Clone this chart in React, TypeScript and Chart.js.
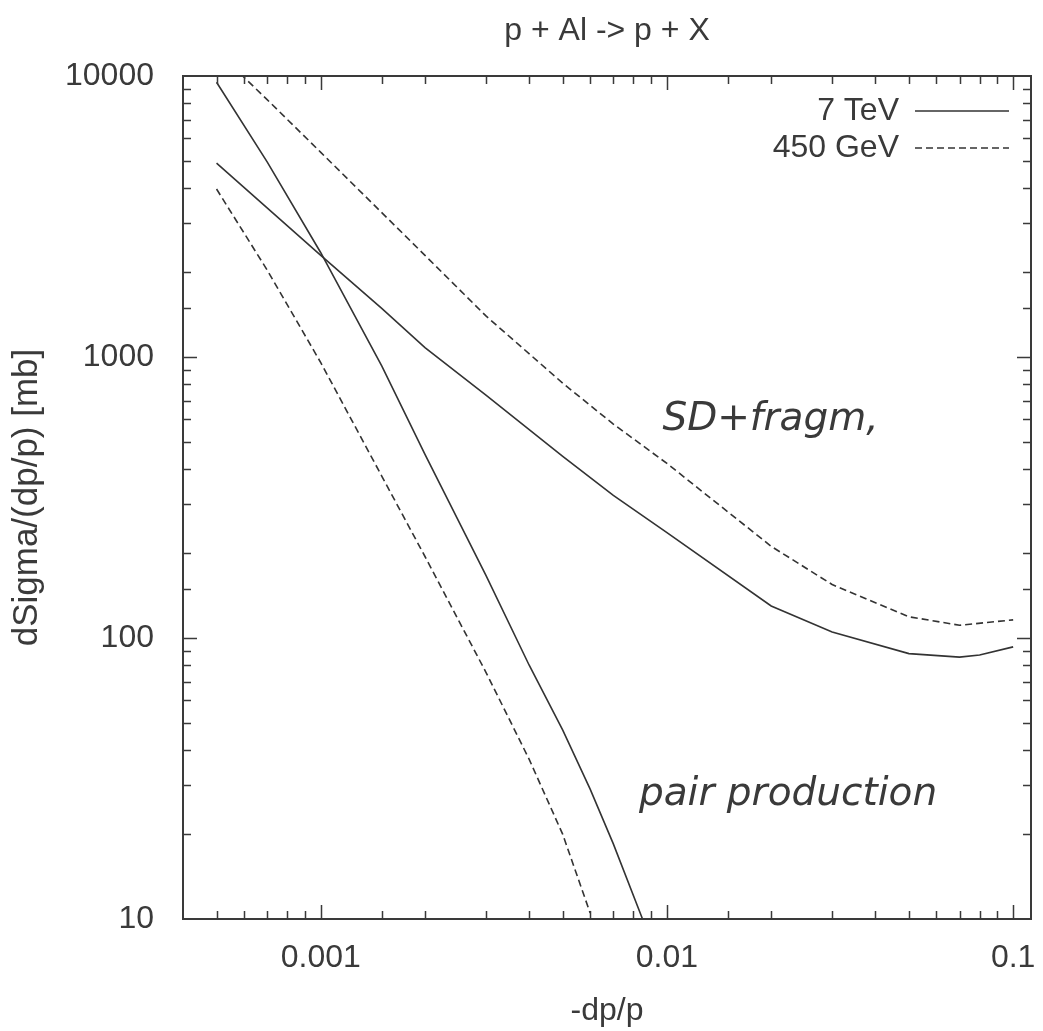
import React, { useEffect, useRef } from 'react';
import { Chart, registerables } from 'chart.js';

Chart.register(...registerables);

// ---- text ----
const titleText = 'p + Al -> p + X';
const xAxisTitle = '-dp/p';
const yAxisTitle = 'dSigma/(dp/p) [mb]';
const seriesLabels = ['7 TeV', '450 GeV'];

// ---- tick labels (only decades are labelled) ----
const xTickValues = [0.001, 0.01, 0.1];
const xTickLabels = ['0.001', '0.01', '0.1'];
const yTickValues = [10, 100, 1000, 10000];
const yTickLabels = ['10', '100', '1000', '10000'];

// ---- series: 7 TeV, SD + fragmentation (solid) ----
const xSd7 = [0.0005, 0.001, 0.0015, 0.002, 0.003, 0.005, 0.007, 0.01, 0.02, 0.03, 0.05, 0.07, 0.08, 0.1];
const ySd7 = [4900, 2300, 1490, 1080, 731, 443, 322, 237, 130, 105, 88, 85.5, 87, 93];

// ---- series: 450 GeV, SD + fragmentation (dashed) ----
const xSd450 = [0.0005, 0.0007, 0.001, 0.002, 0.003, 0.005, 0.007, 0.01, 0.02, 0.03, 0.05, 0.07, 0.1];
const ySd450 = [12300, 8240, 5350, 2300, 1400, 807, 577, 418, 212, 155, 119, 111, 116];

// ---- series: 7 TeV, pair production (solid) ----
const xPair7 = [0.0005, 0.0007, 0.001, 0.0015, 0.002, 0.003, 0.004, 0.005, 0.006, 0.007, 0.0085];
const yPair7 = [9500, 4950, 2350, 930, 450, 167, 80, 47, 29, 18.5, 10];

// ---- series: 450 GeV, pair production (dashed) ----
const xPair450 = [0.0005, 0.0007, 0.001, 0.0015, 0.002, 0.003, 0.004, 0.005, 0.006];
const yPair450 = [3960, 2040, 955, 377, 195, 75.5, 37, 20, 10.5];

// ---- hand-written annotations (data coordinates) ----
const annotationTexts = ['SD+fragm,', 'pair production'];
const annotationX = [0.0097, 0.0083];
const annotationY = [550, 25.5];

// ---- axis ranges ----
const xMin = 0.0004;
const xMax = 0.1126;
const yMin = 10;
const yMax = 10000;

const INK = '#3a3a3a';
const LINE = '#333333';
const FONT = "'Liberation Sans', Arial, Helvetica, sans-serif";
const DASH = [7, 4];

const toPoints = (xs: number[], ys: number[]) => xs.map((x, i) => ({ x, y: ys[i] }));

const labelFor = (values: number[], labels: string[]) => (v: number | string) => {
  const n = Number(v);
  const i = values.findIndex((t) => Math.abs(n / t - 1) < 1e-6);
  return i >= 0 ? labels[i] : '';
};

const frameTicksPlugin = {
  id: 'frameTicks',
  afterDatasetsDraw(chart: any) {
    const { ctx, chartArea } = chart;
    const { left, right, top, bottom } = chartArea;
    const xs = chart.scales.x;
    const ys = chart.scales.y;
    ctx.save();
    ctx.strokeStyle = INK;
    ctx.lineWidth = 1.5;
    ctx.beginPath();
    xs.ticks.forEach((t: any) => {
      if (t.value <= xs.min * 1.0001 || t.value >= xs.max * 0.9999) return;
      const px = Math.round(xs.getPixelForValue(t.value)) + 0.5;
      const len = t.major ? 14 : 8;
      ctx.moveTo(px, bottom);
      ctx.lineTo(px, bottom - len);
      ctx.moveTo(px, top);
      ctx.lineTo(px, top + len);
    });
    ys.ticks.forEach((t: any) => {
      if (t.value <= ys.min * 1.0001 || t.value >= ys.max * 0.9999) return;
      const py = Math.round(ys.getPixelForValue(t.value)) + 0.5;
      const len = t.major ? 14 : 8;
      ctx.moveTo(left, py);
      ctx.lineTo(left + len, py);
      ctx.moveTo(right, py);
      ctx.lineTo(right - len, py);
    });
    ctx.stroke();
    ctx.lineWidth = 2;
    ctx.strokeRect(left, top, right - left, bottom - top);
    ctx.restore();
  },
};

const annotationPlugin = {
  id: 'handNotes',
  afterDatasetsDraw(chart: any) {
    const { ctx } = chart;
    const xs = chart.scales.x;
    const ys = chart.scales.y;
    ctx.save();
    ctx.font = "italic 39px 'DejaVu Sans', sans-serif";
    ctx.fillStyle = INK;
    ctx.textAlign = 'left';
    ctx.textBaseline = 'alphabetic';
    annotationTexts.forEach((txt, i) => {
      ctx.fillText(txt, xs.getPixelForValue(annotationX[i]), ys.getPixelForValue(annotationY[i]));
    });
    ctx.restore();
  },
};

const legendPlacer = {
  id: 'legendPlacer',
  afterLayout(chart: any) {
    const lg = chart.legend;
    if (!lg) return;
    const ca = chart.chartArea;
    const pad = 5;
    const sampleRight = ca.right - 22;
    lg.left = sampleRight + pad - lg.width;
    lg.right = lg.left + lg.width;
    lg.top = ca.top + 14;
    lg.bottom = ca.bottom;
  },
};

export default function App() {
  const ref = useRef<HTMLCanvasElement | null>(null);

  useEffect(() => {
    if (!ref.current) return;
    const lineCommon = { pointRadius: 0, borderWidth: 1.6, tension: 0, fill: false, borderColor: LINE, backgroundColor: LINE };
    const chart = new Chart(ref.current, {
      type: 'line',
      data: {
        datasets: [
          { ...lineCommon, label: seriesLabels[0], data: toPoints(xSd7, ySd7) },
          { ...lineCommon, label: seriesLabels[1], data: toPoints(xSd450, ySd450), borderDash: DASH },
          { ...lineCommon, label: seriesLabels[0], data: toPoints(xPair7, yPair7) },
          { ...lineCommon, label: seriesLabels[1], data: toPoints(xPair450, yPair450), borderDash: DASH },
        ],
      },
      options: {
        animation: false,
        responsive: false,
        devicePixelRatio: 1,
        layout: { padding: { top: 0, right: 6, bottom: 0, left: 0 } },
        plugins: {
          title: {
            display: true,
            text: titleText,
            fullSize: false,
            color: INK,
            font: { family: FONT, size: 32, weight: 'normal' },
            padding: { top: 12, bottom: 25.6 },
          },
          legend: {
            display: true,
            position: 'chartArea',
            align: 'start',
            rtl: true,
            labels: {
              generateLabels: (c: any) => {
                const items = (Chart.defaults as any).plugins.legend.labels.generateLabels(c);
                return items.map((it: any) => ({
                  ...it,
                  lineDash: c.data.datasets[it.datasetIndex].borderDash || [],
                  lineWidth: 1.4,
                  strokeStyle: LINE,
                  fillStyle: LINE,
                  fontColor: INK,
                }));
              },
              filter: (item: any) => item.datasetIndex < 2,
              usePointStyle: true,
              pointStyle: 'line',
              pointStyleWidth: 94,
              boxHeight: 32,
              padding: 5,
              color: INK,
              font: { family: FONT, size: 32, lineHeight: 1 },
            },
          },
          tooltip: { enabled: false },
        },
        scales: {
          x: {
            type: 'logarithmic',
            min: xMin,
            max: xMax,
            grid: { display: false },
            border: { display: false },
            afterFit: (s: any) => { s.height = 112; },
            ticks: {
              autoSkip: false,
              maxRotation: 0,
              minRotation: 0,
              padding: 12,
              color: INK,
              font: { family: FONT, size: 32 },
              callback: labelFor(xTickValues, xTickLabels),
            },
            title: {
              display: true,
              text: xAxisTitle,
              color: INK,
              font: { family: FONT, size: 32 },
              padding: { top: 0, bottom: 1 },
            },
          },
          y: {
            type: 'logarithmic',
            min: yMin,
            max: yMax,
            grid: { display: false },
            border: { display: false },
            afterFit: (s: any) => { s.width = 183; },
            ticks: {
              autoSkip: false,
              padding: 21,
              color: INK,
              font: { family: FONT, size: 32 },
              callback: labelFor(yTickValues, yTickLabels),
            },
            title: {
              display: true,
              text: yAxisTitle,
              color: INK,
              font: { family: FONT, size: 35 },
              padding: { top: 6, bottom: 0 },
            },
          },
        },
      },
      plugins: [frameTicksPlugin, annotationPlugin, legendPlacer],
    } as any);
    return () => chart.destroy();
  }, []);

  return (
    <div style={{ position: 'absolute', left: 0, top: 0, width: 1043, height: 1031, background: '#ffffff' }}>
      <canvas ref={ref} width={1043} height={1031} style={{ display: 'block' }} />
    </div>
  );
}
